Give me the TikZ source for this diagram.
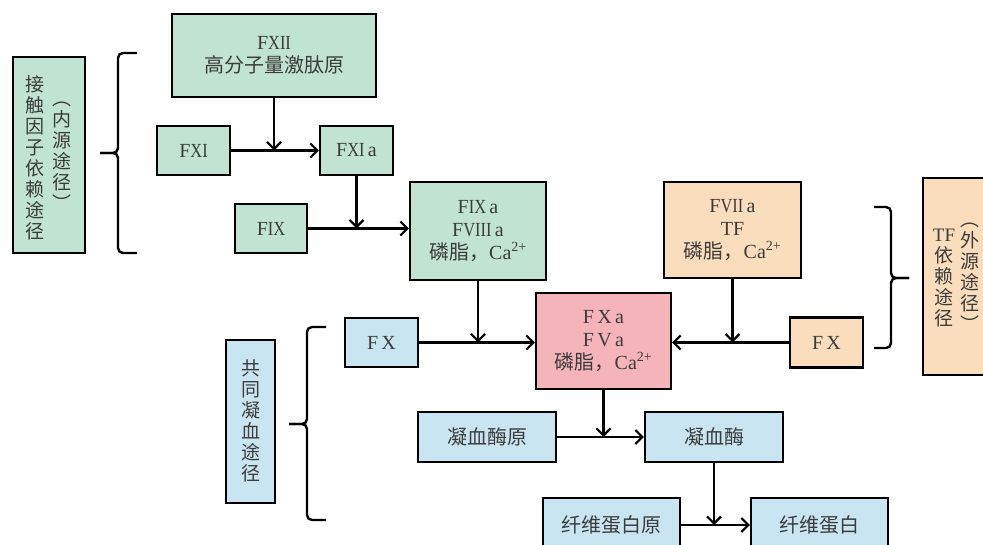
\documentclass[tikz,border=0pt]{standalone}
\usepackage{fontspec}
\setmainfont{Liberation Serif}
\newfontfamily\cjk{Noto Sans CJK SC}
\usetikzlibrary{arrows.meta}
\definecolor{gr}{HTML}{C1E3D1}
\definecolor{bl}{HTML}{C9E5F1}
\definecolor{og}{HTML}{FADDBC}
\definecolor{pk}{HTML}{F5B4BA}
\definecolor{tx}{HTML}{3C3C3C}
\newcommand\rn[1]{\scalebox{0.82}[1]{#1}}
\newcommand\cas{Ca\textsuperscript{2+}}
\begin{document}
\begin{tikzpicture}[x=1pt,y=-1pt,
  box/.style={draw=black, line width=2.2pt, inner sep=0pt, align=center, text=tx,
    font=\fontsize{20}{23}\selectfont},
  cbox/.style={box, font=\cjk\fontsize{20}{23}\selectfont},
  vt/.style={inner sep=0pt, align=center, text=tx, font=\cjk\fontsize{19}{21}\selectfont},
  arr/.style={line width=2.2pt, -{Straight Barb[length=7pt,width=14pt,line width=2.2pt]}},
  brc/.style={line width=2.4pt, rounded corners=5pt}]
\useasboundingbox (0,0) rectangle (983,545);
% intrinsic
\node[box, fill=gr, minimum width=204, minimum height=83] (fxii) at (274,55.5) {F\rn{XII}\\{\cjk 高分子量激肽原}};
\node[box, fill=gr, minimum width=72, minimum height=196] (intr) at (49,155) {};
\node[vt] (intr1) at (35,158) {接\\触\\因\\子\\依\\赖\\途\\径};
\node[vt] (intr2) at (62,156) {︵\\内\\源\\途\\径\\︶};
\node[box, fill=gr, minimum width=73, minimum height=49] (fxi) at (193.5,150.5) {F\rn{XI}};
\node[box, fill=gr, minimum width=73, minimum height=49] (fxia) at (356.5,150.5) {F\rn{XI}\,a};
\node[box, fill=gr, minimum width=72, minimum height=49] (fix) at (271,228.5) {F\rn{IX}};
\node[box, fill=gr, minimum width=136, minimum height=98] (fixa) at (478,231) {F\rn{IX}\,a\\F\rn{VIII}\,a\\{\cjk 磷脂，}\cas};
% extrinsic
\node[box, fill=og, minimum width=137, minimum height=96] (fviia) at (732.5,230) {F\rn{VII}\,a\\TF\\{\cjk 磷脂，}\cas};
\node[box, fill=og, minimum width=73, minimum height=50] (fxo) at (826.5,342.5) {F\,X};
\node[box, fill=og, minimum width=70, minimum height=197, anchor=west] (extr) at (922,276.5) {};
\node[vt] (extr1) at (944,278) {{\rmfamily TF}\\依\\赖\\途\\径};
\node[vt] (extr2) at (970,277) {︵\\外\\源\\途\\径\\︶};
% common
\node[box, fill=pk, minimum width=135, minimum height=96] (fxa) at (603.5,341) {F\,X\,a\\F\,V\,a\\{\cjk 磷脂，}\cas};
\node[box, fill=bl, minimum width=73, minimum height=49] (fxb) at (381.5,342.5) {F\,X};
\node[box, fill=bl, minimum width=49, minimum height=163] (comm) at (250.5,421.5) {};
\node[vt] (comm1) at (250.5,421) {共\\同\\凝\\血\\途\\径};
\node[cbox, fill=bl, minimum width=138, minimum height=50] (pro) at (487,437) {凝血酶原};
\node[cbox, fill=bl, minimum width=138, minimum height=50] (thr) at (714,437) {凝血酶};
\node[cbox, fill=bl, minimum width=137, minimum height=54] (fbg) at (611.5,525) {纤维蛋白原};
\node[cbox, fill=bl, minimum width=137, minimum height=54] (fbn) at (819.5,525) {纤维蛋白};
% braces
\draw[brc] (137,53) -- (118,53) -- (118,153) -- (100,153);
\draw[brc] (100,153) -- (118,153) -- (118,253) -- (137,253);
\draw[brc] (326,327) -- (307,327) -- (307,424) -- (289,424);
\draw[brc] (289,424) -- (307,424) -- (307,520) -- (326,520);
\draw[brc] (874,207) -- (891,207) -- (891,278) -- (909,278);
\draw[brc] (909,278) -- (891,278) -- (891,348) -- (874,348);
% arrows
\draw[arr] (fxi.east) -- (fxia.west);
\draw[arr] (fxii.south) -- (fxii.south |- fxi.east);
\draw[arr] (fix.east) -- (fix.east -| fixa.west);
\draw[arr] (fxia.south) -- (fxia.south |- fix.east);
\draw[arr] (fxb.east) -- (fxb.east -| fxa.west);
\draw[arr] (fixa.south) -- (fixa.south |- fxb.east);
\draw[arr] (fxo.west) -- (fxo.west -| fxa.east);
\draw[arr] (fviia.south) -- (fviia.south |- fxo.west);
\draw[arr] (pro.east) -- (thr.west);
\draw[arr] (fxa.south) -- (fxa.south |- pro.east);
\draw[arr] (fbg.east) -- (fbn.west);
\draw[arr] (thr.south) -- (thr.south |- fbg.east);
\end{tikzpicture}
\end{document}
